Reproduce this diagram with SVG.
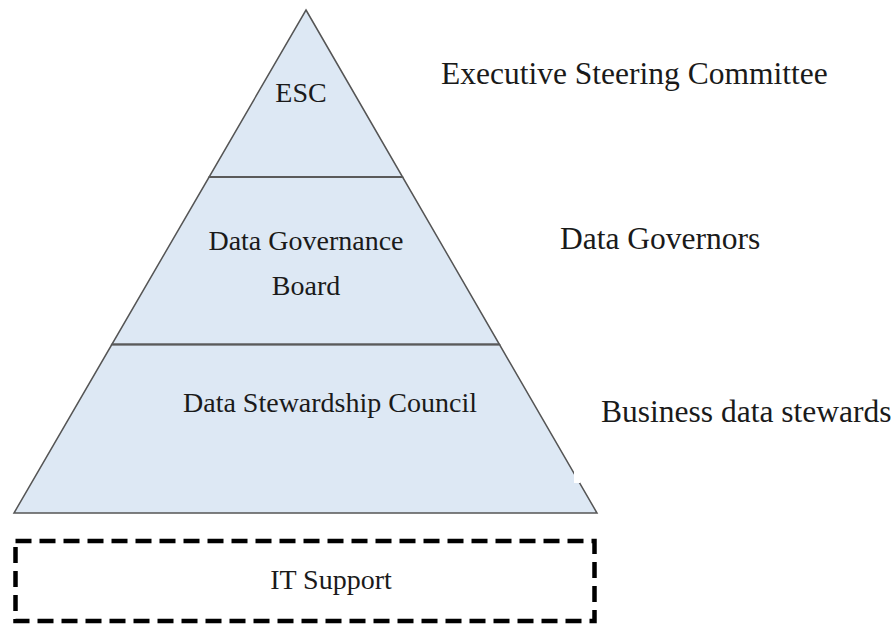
<svg xmlns="http://www.w3.org/2000/svg" width="895" height="624" viewBox="0 0 895 624">
  <style>
    .tier { fill: #dde8f4; stroke: #555; stroke-width: 1.5; stroke-linejoin: miter; }
    .divider { stroke: #5a5a5a; stroke-width: 2; }
    .lbl { font-family: "Liberation Serif", "Times New Roman", serif; fill: #1a1a1a; }
    .inner { font-size: 28px; text-anchor: middle; }
    .side { font-size: 31.5px; }
    .support { fill: none; stroke: #000; stroke-width: 4.5; stroke-dasharray: 16 8; }
  </style>

  <!-- top tier -->
  <g id="esc">
    <polygon class="tier" points="306,10 402.6,177 209.1,177"/>
    <text class="lbl inner" x="301" y="102" font-size="27">ESC</text>
  </g>

  <!-- middle tier -->
  <g id="governance-board">
    <polygon class="tier" points="209.1,177 402.6,177 499.5,344.5 111.8,344.5"/>
    <text class="lbl inner" x="306" y="250">Data Governance</text>
    <text class="lbl inner" x="306" y="295">Board</text>
  </g>

  <!-- bottom tier -->
  <g id="stewardship-council">
    <polygon class="tier" points="111.8,344.5 499.5,344.5 597,513 14,513"/>
    <text class="lbl inner" x="330" y="412">Data Stewardship Council</text>
    <!-- small break in the right edge -->
    <rect x="574" y="470" width="6" height="13" fill="#fff"/>
  </g>

  <!-- tier dividers -->
  <g id="connectors">
    <line class="divider" x1="209.1" y1="177" x2="402.6" y2="177"/>
    <line class="divider" x1="111.8" y1="344.5" x2="499.5" y2="344.5"/>
  </g>

  <!-- foundation -->
  <g id="it-support">
    <rect class="support" x="15.5" y="541" width="579" height="80"/>
    <text class="lbl inner" x="331" y="589">IT Support</text>
  </g>

  <!-- role labels -->
  <g id="role-labels">
    <text class="lbl side" x="441" y="84">Executive Steering Committee</text>
    <text class="lbl side" x="560" y="249">Data Governors</text>
    <text class="lbl side" x="601" y="422">Business data stewards</text>
  </g>
</svg>
